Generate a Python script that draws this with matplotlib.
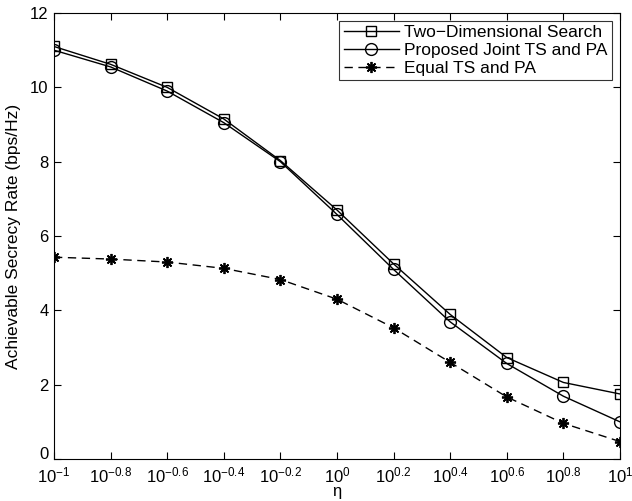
import matplotlib
matplotlib.use('Agg')
import matplotlib.pyplot as plt
import matplotlib.transforms as mtransforms
import numpy as np

plt.rcParams['font.family'] = ['Liberation Sans', 'DejaVu Sans']
plt.rcParams['mathtext.fontset'] = 'custom'
plt.rcParams['mathtext.rm'] = 'Liberation Sans'
plt.rcParams['mathtext.it'] = 'Liberation Sans'

exponents = [-1, -0.8, -0.6, -0.4, -0.2, 0, 0.2, 0.4, 0.6, 0.8, 1]
eta = [10 ** e for e in exponents]
two_dim = [11.1, 10.62, 10.0, 9.15, 8.03, 6.7, 5.25, 3.89, 2.73, 2.06, 1.75]
proposed = [11.0, 10.55, 9.9, 9.05, 8.0, 6.58, 5.1, 3.69, 2.57, 1.69, 1.0]
equal = [5.43, 5.38, 5.3, 5.13, 4.83, 4.3, 3.53, 2.6, 1.67, 0.96, 0.47]
tick_labels = [r'$10^{%g}$' % e for e in exponents]

fig = plt.figure(figsize=(6.32, 5.01), dpi=100)
ax = fig.add_axes([0.0854, 0.0838, 0.8956, 0.8902])

ax.plot(eta, two_dim, 'k-', marker='s', mfc='none', ms=7, lw=1, label='Two\u2212Dimensional Search')
ax.plot(eta, proposed, 'k-', marker='o', mfc='none', ms=8.5, lw=1, label='Proposed Joint TS and PA')
ax.plot(eta, equal, 'k--', marker=(8, 2, 0), ms=8, mew=1.3, lw=1, dashes=(6, 4), label='Equal TS and PA')

ax.set_xscale('log')
ax.set_xlim(0.1, 10)
ax.set_ylim(0, 12)
ax.set_xticks(eta)
ax.set_xticklabels(tick_labels)
ax.xaxis.set_minor_locator(matplotlib.ticker.NullLocator())
ax.set_yticks([0, 2, 4, 6, 8, 10, 12])
ax.tick_params(direction='in', top=True, right=True, labelsize=12, length=5)
ax.tick_params(axis='x', pad=5)
ax.tick_params(axis='y', pad=4)

# nudge the "0" label up a little so it clears the 10^-1 label
lab0 = ax.get_yticklabels()[0]
lab0.set_transform(lab0.get_transform() + mtransforms.ScaledTranslation(0, 4 / 72, fig.dpi_scale_trans))

ax.set_xlabel('\u03b7', fontsize=12, labelpad=-1)
ax.set_ylabel('Achievable Secrecy Rate (bps/Hz)', fontsize=12.5, labelpad=6)

leg = ax.legend(loc='upper right', fontsize=12.5, fancybox=False, edgecolor='k',
                borderaxespad=0.45, handlelength=3.2, handletextpad=0.3,
                labelspacing=0.15, borderpad=0.25)
leg.get_frame().set_linewidth(0.8)

plt.savefig('out.png', dpi=100)
